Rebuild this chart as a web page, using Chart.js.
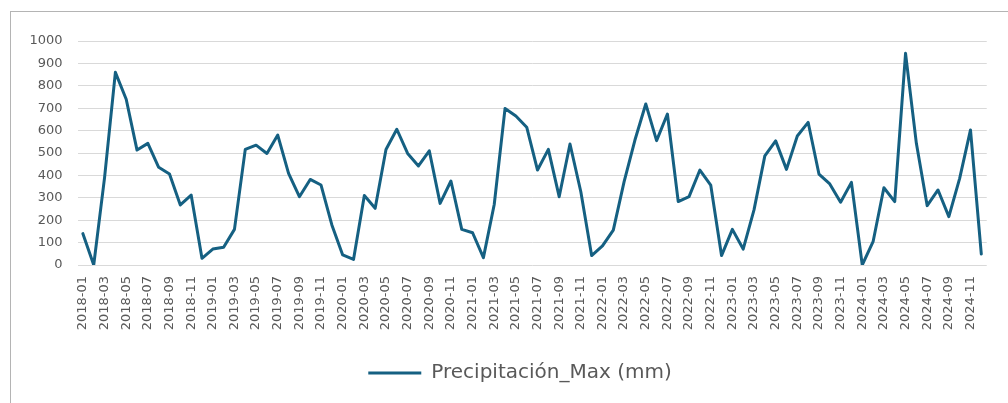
<!DOCTYPE html>
<html>
<head>
<meta charset="utf-8">
<script src="https://cdn.jsdelivr.net/npm/chart.js@4"></script>
<style>
  html, body { margin: 0; padding: 0; background: #fff; overflow: hidden; }
  #wrap { position: relative; width: 1008px; height: 403px; }
  #frame { position: absolute; left: 10px; top: 11px; width: 1100px; height: 500px; border: 1.5px solid #b4b4b4; }
  canvas { position: absolute; left: 0; top: 0; }
</style>
</head>
<body>
<div id="wrap">
  <div id="frame"></div>
  <canvas id="chart" width="1008" height="403"></canvas>
</div>
<script>
// categories: one label per month, 2018-01 .. 2024-12
const years = ['2018', '2019', '2020', '2021', '2022', '2023', '2024'];
const months = ['01', '02', '03', '04', '05', '06', '07', '08', '09', '10', '11', '12'];
let labels = [];
for (let y of years) {
    for (let m of months) {
        labels.push(y + '-' + m);
    }
}

// monthly maximum precipitation (mm)
const prec2018 = [140, 0, 390, 860, 740, 513, 543, 436, 406, 268, 312, 30];
const prec2019 = [71, 79, 159, 516, 535, 498, 580, 409, 305, 382, 357, 179];
const prec2020 = [45, 25, 310, 253, 516, 606, 498, 442, 510, 275, 375, 159];
const prec2021 = [144, 33, 270, 699, 665, 615, 424, 516, 305, 540, 327, 42];
const prec2022 = [85, 156, 372, 558, 719, 555, 674, 283, 305, 424, 357, 42];
const prec2023 = [159, 71, 246, 487, 554, 427, 576, 637, 406, 362, 280, 369];
const prec2024 = [0, 104, 345, 283, 945, 543, 265, 335, 216, 387, 603, 49];
const precipitation = [].concat(prec2018, prec2019, prec2020, prec2021, prec2022, prec2023, prec2024);

const yMin = 0;
const yMax = 1000;
const yStep = 100;

const lineColor = '#156082';
const textColor = '#595959';
const fontFamily = "'DejaVu Sans', sans-serif";

// nudge the legend so it sits where the original one does
const legendShift = {
    id: 'legendShift',
    afterLayout(chart) {
        chart.legend.left += 23;
        chart.legend.right += 23;
    }
};

const ctx = document.getElementById('chart').getContext('2d');

new Chart(ctx, {
    type: 'line',
    data: {
        labels: labels,
        datasets: [{
            label: 'Precipitación_Max (mm)',
            data: precipitation,
            borderColor: lineColor,
            backgroundColor: lineColor,
            borderWidth: 3,
            borderJoinStyle: 'round',
            borderCapStyle: 'round',
            pointRadius: 0,
            tension: 0,
            fill: false
        }]
    },
    options: {
        responsive: false,
        animation: false,
        layout: {
            padding: { left: 0, right: 14, top: 41, bottom: 10 }
        },
        scales: {
            x: {
                offset: true,
                grid: { display: false, drawTicks: false },
                border: { display: false },
                ticks: {
                    autoSkip: false,
                    minRotation: 90,
                    maxRotation: 90,
                    padding: 11,
                    color: textColor,
                    font: { family: fontFamily, size: 13 },
                    callback: function (value, index) {
                        return index % 2 === 0 ? this.getLabelForValue(value) : '';
                    }
                },
                afterFit: function (scale) { scale.height = 88; }
            },
            y: {
                min: yMin,
                max: yMax,
                grid: { color: '#d9d9d9', lineWidth: 1, drawTicks: false },
                border: { display: false },
                ticks: {
                    stepSize: yStep,
                    padding: 15,
                    color: textColor,
                    font: { family: fontFamily, size: 13 },
                    callback: function (value) { return String(value); }
                },
                afterFit: function (scale) { scale.width = 77.5; }
            }
        },
        plugins: {
            legend: {
                position: 'bottom',
                labels: {
                    usePointStyle: true,
                    pointStyle: 'line',
                    pointStyleWidth: 53,
                    color: textColor,
                    font: { family: fontFamily, size: 20 }
                }
            },
            tooltip: { enabled: false }
        }
    },
    plugins: [legendShift]
});
</script>
</body>
</html>
